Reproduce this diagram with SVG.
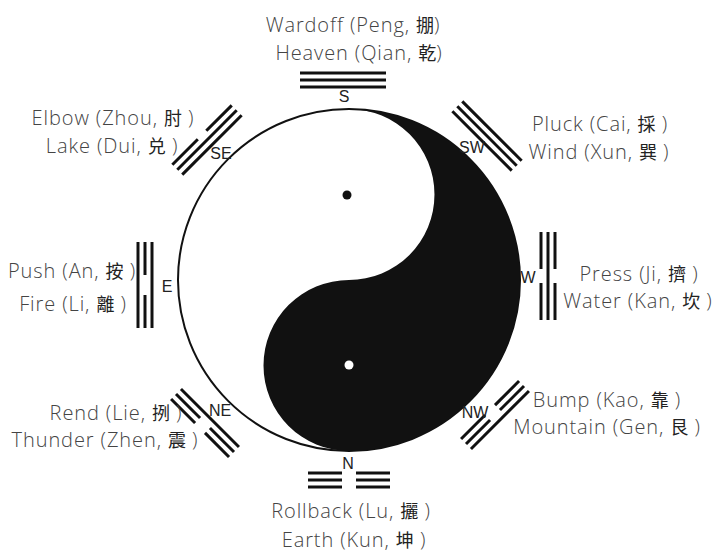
<svg xmlns="http://www.w3.org/2000/svg" width="714" height="552" viewBox="0 0 714 552">
<style>
.bg{fill:#fff}
.t{font-family:"Open Sans",Lato,"Noto Sans CJK SC",sans-serif;font-weight:300;font-size:20px;letter-spacing:0.9px;fill:#444;text-anchor:middle}
.c{font-family:"Noto Sans CJK SC","Noto Sans CJK TC",serif;font-size:18px;font-weight:400;fill:#222;letter-spacing:0}
.d{font-family:"Liberation Sans",Arial,sans-serif;font-size:16px;fill:#222;text-anchor:middle}
.g line{stroke:#111;stroke-width:3;stroke-linecap:butt}
</style>
<rect class="bg" x="0" y="0" width="714" height="552"/>
<g id="yinyang">
<circle cx="349" cy="280" r="171" fill="#fff" stroke="#111" stroke-width="2"/>
<path d="M349 109 A171 171 0 0 1 349 451 A85.5 85.5 0 0 1 349 280 A85.5 85.5 0 0 0 349 109 Z" fill="#111"/>
<circle cx="347" cy="195" r="4.5" fill="#111"/>
<circle cx="349" cy="365" r="4.5" fill="#fff"/>
</g>
<g id="south">
<g class="g" transform="translate(343,80)">
<line x1="-43" y1="-7" x2="43" y2="-7"/><line x1="-43" y1="0" x2="43" y2="0"/><line x1="-43" y1="7" x2="43" y2="7"/>
</g>
<text class="d" x="344" y="102">S</text>
<text class="t" x="353" y="32">Wardoff (Peng, <tspan class="c">掤</tspan>)</text>
<text class="t" x="359" y="60">Heaven (Qian, <tspan class="c">乾</tspan>)</text>
</g>
<g id="southeast">
<g class="g" transform="translate(207,140) rotate(-45)">
<line x1="-42" y1="-7" x2="-6" y2="-7"/><line x1="6" y1="-7" x2="42" y2="-7"/><line x1="-42" y1="0" x2="42" y2="0"/><line x1="-42" y1="7" x2="42" y2="7"/>
</g>
<text class="d" x="221" y="159">SE</text>
<text class="t" x="113" y="125">Elbow (Zhou, <tspan class="c">肘</tspan> )</text>
<text class="t" x="112" y="153">Lake (Dui, <tspan class="c">兑</tspan> )</text>
</g>
<g id="southwest">
<g class="g" transform="translate(487,136) rotate(45)">
<line x1="-42" y1="-7" x2="42" y2="-7"/><line x1="-42" y1="0" x2="42" y2="0"/><line x1="-42" y1="7" x2="42" y2="7"/>
</g>
<text class="d" x="472" y="153">SW</text>
<text class="t" x="600" y="131">Pluck (Cai, <tspan class="c">採</tspan> )</text>
<text class="t" x="599" y="159">Wind (Xun, <tspan class="c">巽</tspan> )</text>
</g>
<g id="east">
<g class="g" transform="translate(145,285) rotate(-90)">
<line x1="-43" y1="-7" x2="43" y2="-7"/><line x1="-43" y1="0" x2="-10" y2="0"/><line x1="10" y1="0" x2="43" y2="0"/><line x1="-43" y1="7" x2="43" y2="7"/>
</g>
<text class="d" x="167" y="292">E</text>
<text class="t" x="72" y="278">Push (An, <tspan class="c">按</tspan> )</text>
<text class="t" x="73" y="311">Fire (Li, <tspan class="c">離</tspan> )</text>
</g>
<g id="west">
<g class="g" transform="translate(548,276) rotate(90)">
<line x1="-44" y1="-7" x2="-7" y2="-7"/><line x1="7" y1="-7" x2="44" y2="-7"/><line x1="-44" y1="0" x2="44" y2="0"/><line x1="-44" y1="7" x2="-7" y2="7"/><line x1="7" y1="7" x2="44" y2="7"/>
</g>
<text class="d" x="528" y="283">W</text>
<text class="t" x="639" y="281">Press (Ji, <tspan class="c">擠</tspan> )</text>
<text class="t" x="638" y="308">Water (Kan, <tspan class="c">坎</tspan> )</text>
</g>
<g id="northeast">
<g class="g" transform="translate(205,423) rotate(-135)">
<line x1="-41" y1="-7" x2="-7" y2="-7"/><line x1="7" y1="-7" x2="41" y2="-7"/><line x1="-41" y1="0" x2="-7" y2="0"/><line x1="7" y1="0" x2="41" y2="0"/><line x1="-41" y1="7" x2="41" y2="7"/>
</g>
<text class="d" x="220" y="416">NE</text>
<text class="t" x="116" y="420">Rend (Lie, <tspan class="c">挒</tspan> )</text>
<text class="t" x="105" y="447">Thunder (Zhen, <tspan class="c">震</tspan> )</text>
</g>
<g id="northwest">
<g class="g" transform="translate(495,415) rotate(135)">
<line x1="-41" y1="-7" x2="41" y2="-7"/><line x1="-41" y1="0" x2="-7" y2="0"/><line x1="7" y1="0" x2="41" y2="0"/><line x1="-41" y1="7" x2="-7" y2="7"/><line x1="7" y1="7" x2="41" y2="7"/>
</g>
<text class="d" x="475" y="418">NW</text>
<text class="t" x="607" y="407">Bump (Kao, <tspan class="c">靠</tspan> )</text>
<text class="t" x="607" y="434">Mountain (Gen, <tspan class="c">艮</tspan> )</text>
</g>
<g id="north">
<g class="g" transform="translate(349,480) rotate(180)">
<line x1="-41" y1="-7" x2="-7" y2="-7"/><line x1="7" y1="-7" x2="41" y2="-7"/><line x1="-41" y1="0" x2="-7" y2="0"/><line x1="7" y1="0" x2="41" y2="0"/><line x1="-41" y1="7" x2="-7" y2="7"/><line x1="7" y1="7" x2="41" y2="7"/>
</g>
<text class="d" x="348" y="469">N</text>
<text class="t" x="351" y="518">Rollback (Lu, <tspan class="c">攦</tspan> )</text>
<text class="t" x="354" y="547">Earth (Kun, <tspan class="c">坤</tspan> )</text>
</g>
</svg>
